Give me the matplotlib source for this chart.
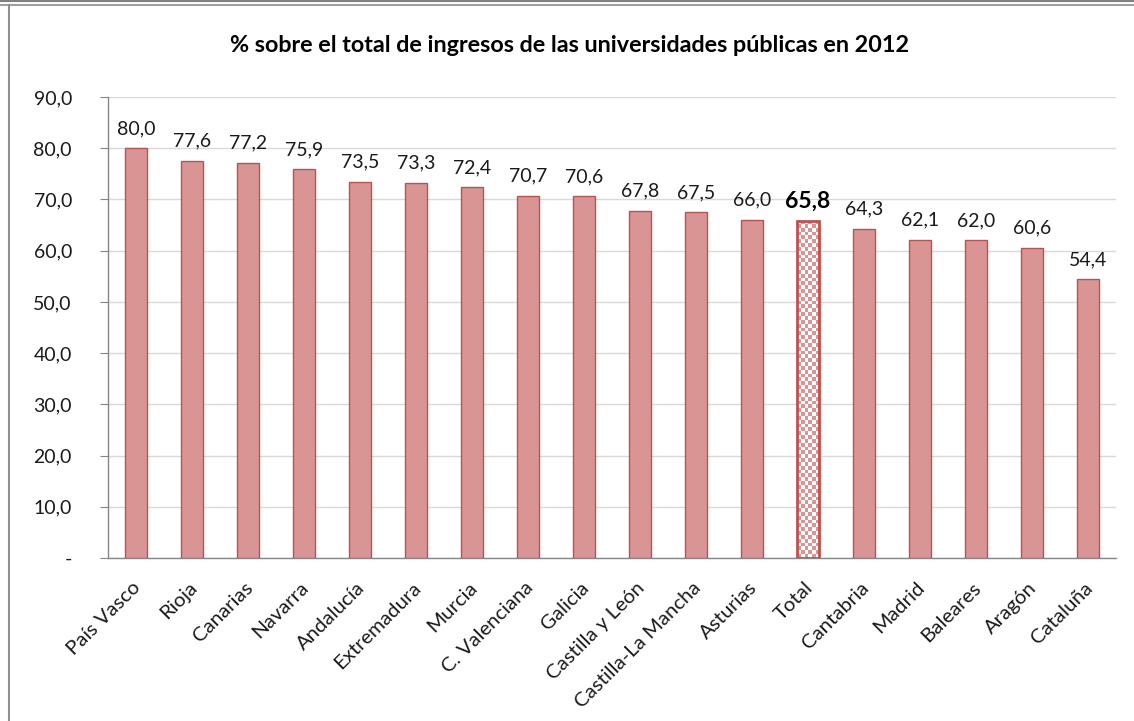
import matplotlib
matplotlib.use("Agg")
import matplotlib.pyplot as plt
import numpy as np
from matplotlib.lines import Line2D
from matplotlib.colors import ListedColormap
from matplotlib.transforms import ScaledTranslation

categories = ["País Vasco", "Rioja", "Canarias", "Navarra", "Andalucía", "Extremadura",
              "Murcia", "C. Valenciana", "Galicia", "Castilla y León", "Castilla-La Mancha",
              "Asturias", "Total", "Cantabria", "Madrid", "Baleares", "Aragón", "Cataluña"]
values = [80.0, 77.6, 77.2, 75.9, 73.5, 73.3, 72.4, 70.7, 70.6, 67.8, 67.5, 66.0, 65.8,
          64.3, 62.1, 62.0, 60.6, 54.4]
yticks = [0, 10, 20, 30, 40, 50, 60, 70, 80, 90]
ytick_labels = ["-", "10,0", "20,0", "30,0", "40,0", "50,0", "60,0", "70,0", "80,0", "90,0"]
title = "% sobre el total de ingresos de las universidades públicas en 2012"
highlight = "Total"

plt.rcParams['font.family'] = ['Lato', 'DejaVu Sans']

W, H = 1134, 721
fig = plt.figure(figsize=(W/100, H/100), dpi=100)
ax = fig.add_axes([108/W, 1-558/H, (1116-108)/W, (558-97)/H])

fill = "#D99594"
edge = "#C0504D"
txt = "#1a1a1a"
x = np.arange(len(categories))
bars = ax.bar(x, values, width=0.41, color=fill, edgecolor=edge, linewidth=1.0, zorder=3)

ax.set_xlim(-0.5, len(categories)-0.5)
ax.set_ylim(0, 90)
ax.set_yticks(yticks)
ax.set_yticklabels(ytick_labels, fontsize=14, color=txt)
ax.set_xticks(x)
ax.set_xticklabels(categories, rotation=45, ha="right", rotation_mode="anchor", fontsize=14.7, color=txt)
ax.tick_params(axis='x', length=0, pad=15)
ax.tick_params(axis='y', length=6, color="#868686", pad=20)
shift = ScaledTranslation(-4/100, 0, fig.dpi_scale_trans)
for t in ax.get_xticklabels():
    t.set_transform(t.get_transform() + shift)
ax.grid(axis='y', color="#D9D9D9", linewidth=1, zorder=0)
for s in ["top", "right"]:
    ax.spines[s].set_visible(False)
for s in ["left", "bottom"]:
    ax.spines[s].set_color("#868686")
    ax.spines[s].set_linewidth(1)

for i, (b, v, c) in enumerate(zip(bars, values, categories)):
    lab = f"{v:.1f}".replace(".", ",")
    cx = b.get_x() + b.get_width()/2
    if c == highlight:
        ax.annotate(lab, (cx, v), xytext=(0, 7), textcoords="offset points",
                    ha="center", va="bottom", fontsize=16.5, fontweight="bold", color="black")
        b.set_linewidth(2)
        n = 6
        m = int(round(n * v / 90 * (558-97) / 23))
        cb = np.indices((m, n)).sum(axis=0) % 2
        im = ax.imshow(cb, cmap=ListedColormap(["white", fill]), aspect="auto",
                       extent=(b.get_x(), b.get_x() + b.get_width(), 0, v), zorder=3.5,
                       interpolation="nearest")
        im.set_clip_path(b)
        b.set_zorder(4)
        b.set_facecolor("none")
    else:
        ax.annotate(lab, (cx, v), xytext=(0, 8), textcoords="offset points",
                    ha="center", va="bottom", fontsize=14, color=txt)

ax.set_xlim(-0.5, len(categories)-0.5)
ax.set_ylim(0, 90)

fig.text(570/W, 1-45/H, title, ha="center", va="center", fontsize=16.8, fontweight="bold")

# outer frame lines
fig.add_artist(Line2D([0, 1], [1-1/H, 1-1/H], color="#808080", linewidth=1.5, transform=fig.transFigure))
fig.add_artist(Line2D([0, 1], [1-5/H, 1-5/H], color="#A0A0A0", linewidth=1.5, transform=fig.transFigure))
fig.add_artist(Line2D([9/W, 9/W], [0, 1-5/H], color="#909090", linewidth=1.5, transform=fig.transFigure))

fig.savefig("out.png", dpi=100)
